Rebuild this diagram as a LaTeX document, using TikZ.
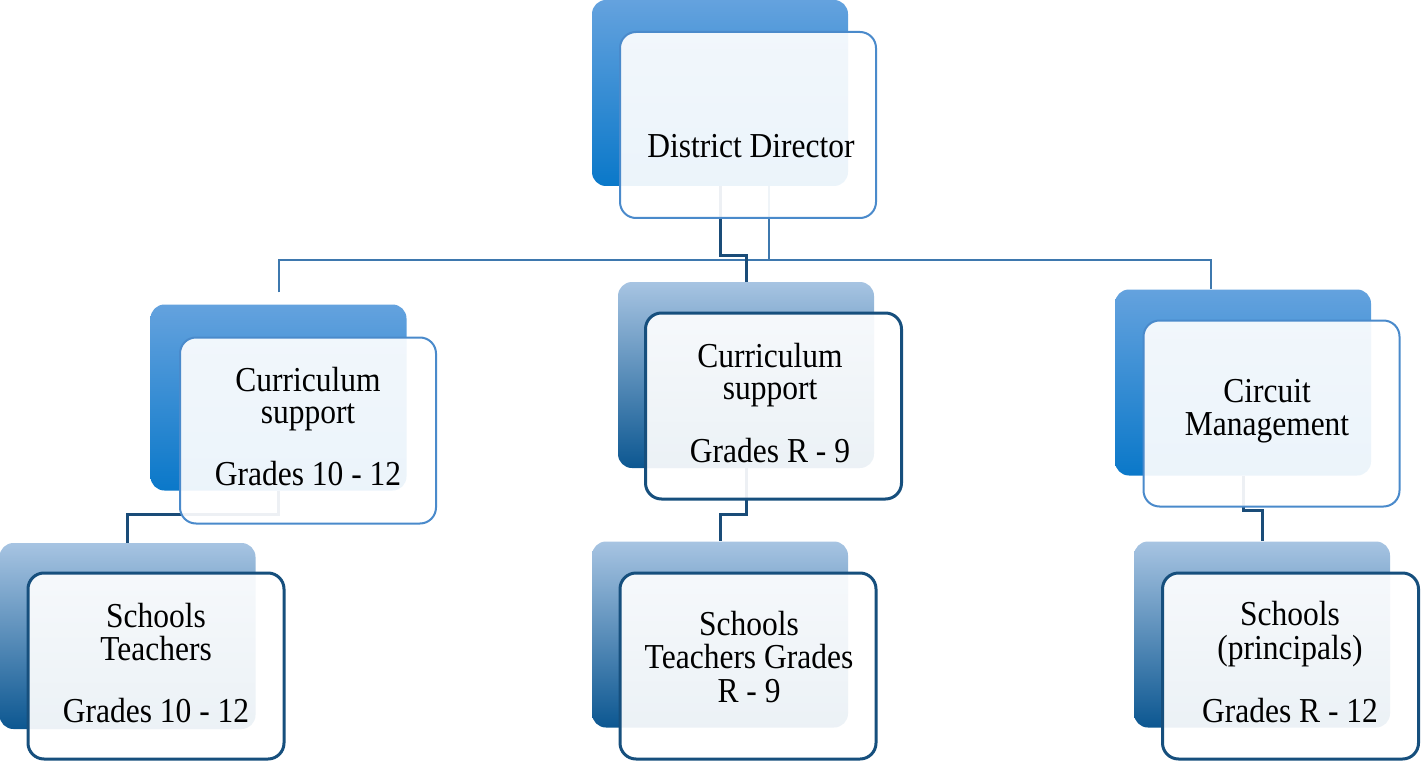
\documentclass[tikz,border=0pt]{standalone}
\usepackage{fontspec}
\setmainfont[FakeStretch=0.9]{Liberation Serif}
\definecolor{bAtop}{HTML}{64A2DE}
\definecolor{bAbot}{HTML}{0A78C9}
\definecolor{bBtop}{HTML}{A7C4E2}
\definecolor{bBmid}{HTML}{80A6D0}
\definecolor{bBbot}{HTML}{0C5791}
\definecolor{frA}{HTML}{4A8ACB}
\definecolor{frB}{HTML}{164F7D}
\definecolor{busC}{HTML}{3E78AE}
\definecolor{darkC}{HTML}{1A4C78}
\newcommand\stk[2][32pt]{\vtop{\baselineskip=#1\relax\lineskiplimit=-100pt\halign{\hfil##\hfil\cr#2\crcr}}}
\tikzset{
  backA/.style={rounded corners=14pt, top color=bAtop, bottom color=bAbot, draw=none,
    minimum width=256pt, minimum height=186pt, inner sep=0pt},
  backB/.style={rounded corners=14pt, top color=bBtop, middle color=bBmid, bottom color=bBbot, draw=none,
    minimum width=256pt, minimum height=186pt, inner sep=0pt},
  frontA/.style={rounded corners=16pt, draw=frA, line width=2pt, fill=white, fill opacity=0.92,
    minimum width=256pt, minimum height=186pt, inner sep=0pt},
  frontB/.style={frontA, draw=frB, line width=3pt},
  busline/.style={draw=busC, line width=2pt},
  darkline/.style={draw=darkC, line width=3pt},
  txt/.style={anchor=base, inner sep=0pt, text=black, font=\fontsize{35}{32}\selectfont}
}
\begin{document}
\begin{tikzpicture}[x=1pt,y=-1pt]
\useasboundingbox (0,0) rectangle (1421,762);
% back boxes
\node[backA] (ddb) at (720,93) {};
\node[backA] (lcb) at (278.5,397.5) {};
\node[backB] (mcb) at (746,375) {};
\node[backA] (rcb) at (1243,382.5) {};
\node[backB] (slb) at (127.5,636) {};
\node[backB] (smb) at (720,634.5) {};
\node[backB] (srb) at (1262,634.5) {};
% helper coordinates
\coordinate (busY) at (0,260);
\coordinate (stepA) at (0,255);
\coordinate (stepB) at (0,514);
\coordinate (stepC) at (0,510);
\coordinate (ddr) at ([xshift=49pt]ddb.south);
\coordinate (lct) at ([yshift=12pt]lcb.north);
\coordinate (rct) at ([xshift=-32pt]rcb.north);
% connectors
\draw[busline] (ddr) -- (ddr |- busY);
\draw[busline] (lct) -- (lct |- busY) -- (rct |- busY) -- (rct);
\draw[darkline] (ddb.south) -- (ddb.south |- stepA) -| (mcb.north);
\draw[darkline] (lcb.south) -- (lcb.south |- stepB) -| (slb.north);
\draw[darkline] (mcb.south) -- (mcb.south |- stepB) -| (smb.north);
\draw[darkline] (rcb.south) -- (rcb.south |- stepC) -| (srb.north);
% front boxes
\node[frontA] (dd) at (748,125) {};
\node[frontA] (lc) at (308,430.5) {};
\node[frontB] (mc) at (773.5,406) {};
\node[frontA] (rc) at (1271.5,413.5) {};
\node[frontB] (sl) at (156,666) {};
\node[frontB] (sm) at (748,666) {};
\node[frontB] (sr) at (1290.5,666) {};
% texts
\node[txt] (ddt) at (751,158) {District Director};
\node[txt] (lctx) at (308,391) {\stk{Curriculum\cr support\cr\noalign{\vskip 30.5pt}Grades 10 - 12}};
\node[txt] (mctx) at (770,367.5) {\stk{Curriculum\cr support\cr\noalign{\vskip 31pt}Grades R - 9}};
\node[txt] (rctx) at (1267,402.5) {\stk[33pt]{Circuit\cr Management}};
\node[txt] (sltx) at (156,627.5) {\stk[33pt]{Schools\cr Teachers\cr\noalign{\vskip 29pt}Grades 10 - 12}};
\node[txt] (smtx) at (749,635) {\stk[33.5pt]{Schools\cr Teachers Grades\cr R - 9}};
\node[txt] (srtx) at (1290,625.5) {\stk[33.5pt]{Schools\cr (principals)\cr\noalign{\vskip 30pt}Grades R - 12}};
\end{tikzpicture}
\end{document}
